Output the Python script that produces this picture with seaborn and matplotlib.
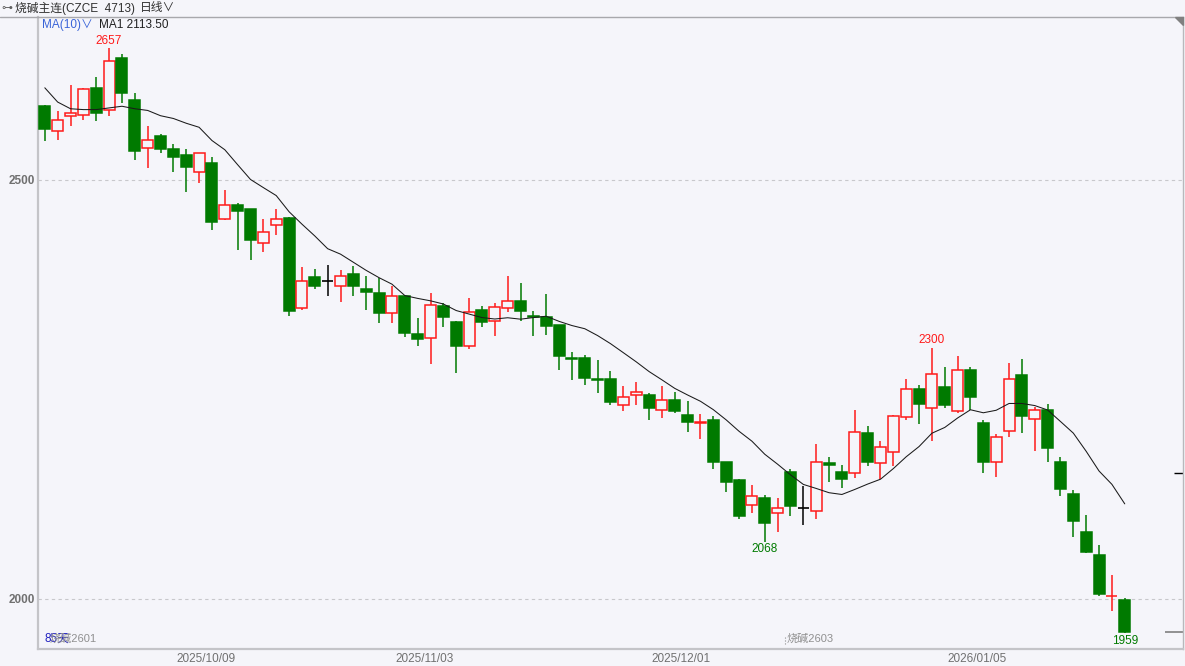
import matplotlib
matplotlib.use("Agg")
import matplotlib.pyplot as plt
import numpy as np
import pandas as pd
import seaborn as sns
from matplotlib.lines import Line2D
from matplotlib.patches import Polygon

# daily OHLC, 烧碱主连 (85 trading days)
opens = [2588, 2559, 2576, 2578, 2610, 2583, 2646, 2595, 2538, 2552,
         2537, 2530, 2510, 2520, 2454, 2470, 2465, 2425, 2446, 2455,
         2347, 2384, 2380, 2374, 2388, 2370, 2365, 2341, 2361, 2316,
         2311, 2350, 2330, 2302, 2345, 2332, 2347, 2355, 2338, 2337,
         2327, 2288, 2288, 2263, 2263, 2231, 2243, 2244, 2226, 2238,
         2220, 2210, 2214, 2163, 2142, 2112, 2120, 2102, 2152, 2109,
         2105, 2162, 2151, 2150, 2198, 2162, 2175, 2217, 2250, 2228,
         2253, 2224, 2273, 2210, 2164, 2200, 2267, 2215, 2226, 2163,
         2125, 2080, 2053, 2003, 1999]
highs = [2590, 2582, 2613, 2610, 2623, 2657, 2650, 2604, 2564, 2555,
         2543, 2537, 2532, 2527, 2488, 2473, 2465, 2454, 2465, 2456,
         2396, 2394, 2399, 2393, 2397, 2385, 2383, 2373, 2362, 2335,
         2365, 2353, 2332, 2359, 2350, 2353, 2385, 2377, 2344, 2364,
         2327, 2295, 2291, 2285, 2272, 2254, 2259, 2246, 2254, 2247,
         2236, 2221, 2218, 2163, 2143, 2136, 2124, 2120, 2155, 2135,
         2185, 2170, 2160, 2226, 2206, 2188, 2220, 2263, 2255, 2300,
         2277, 2290, 2277, 2214, 2197, 2282, 2286, 2229, 2233, 2169,
         2130, 2100, 2064, 2029, 2001]
lows = [2546, 2548, 2565, 2572, 2570, 2576, 2592, 2524, 2514, 2532,
        2510, 2486, 2496, 2440, 2452, 2416, 2404, 2414, 2434, 2338,
        2345, 2370, 2362, 2354, 2362, 2345, 2329, 2329, 2313, 2302,
        2280, 2325, 2270, 2298, 2325, 2314, 2343, 2332, 2314, 2315,
        2273, 2261, 2255, 2246, 2232, 2224, 2232, 2214, 2216, 2222,
        2199, 2191, 2155, 2128, 2096, 2103, 2068, 2080, 2099, 2088,
        2096, 2140, 2133, 2144, 2159, 2143, 2159, 2214, 2209, 2189,
        2228, 2222, 2226, 2150, 2145, 2193, 2198, 2177, 2163, 2123,
        2074, 2055, 2004, 1986, 1959]
closes = [2561, 2572, 2580, 2608, 2580, 2642, 2604, 2535, 2548, 2537,
          2528, 2515, 2532, 2450, 2470, 2463, 2428, 2438, 2453, 2344,
          2380, 2374, 2380, 2385, 2373, 2366, 2341, 2361, 2317, 2310,
          2351, 2336, 2302, 2343, 2331, 2349, 2356, 2344, 2336, 2326,
          2290, 2286, 2264, 2261, 2235, 2241, 2247, 2228, 2237, 2224,
          2211, 2211, 2164, 2139, 2099, 2123, 2091, 2109, 2111, 2109,
          2163, 2160, 2143, 2199, 2163, 2181, 2218, 2250, 2233, 2268,
          2232, 2273, 2241, 2163, 2193, 2262, 2218, 2225, 2180, 2131,
          2093, 2056, 2006, 2004, 1960]
# MA(10) for the first 9 days (needs history before the window)
ma_head = [2610, 2593, 2585, 2584, 2584, 2586, 2588, 2585, 2583]

date_labels = ["2025/10/09", "2025/11/03", "2025/12/01", "2026/01/05"]
date_idx = [12, 29, 49, 72]
contract_switch = 57.6

df = pd.DataFrame({"open": opens, "high": highs, "low": lows, "close": closes})
df["idx"] = np.arange(len(df))
ma = df["close"].rolling(10).mean()
ma.iloc[:len(ma_head)] = ma_head
df["ma10"] = ma

bg = "#f5f5fa"
up_c = "#ff1a1a"
dn_c = "#007a00"

sns.set_theme(style="white")
plt.rcParams["font.family"] = ["Liberation Sans", "Noto Sans CJK SC", "DejaVu Sans"]
plt.rcParams["axes.unicode_minus"] = False

fig = plt.figure(figsize=(11.85, 6.66), dpi=100, facecolor=bg)
ax = fig.add_axes([38 / 1185, 17 / 666, 1145 / 1185, 632 / 666], facecolor=bg)

colors = []
for o, c in zip(df["open"], df["close"]):
    if c > o:
        colors.append(up_c)
    elif c < o:
        colors.append(dn_c)
    else:
        colors.append("black")

# wicks
ax.vlines(df["idx"], df["low"], df["high"], colors=colors, lw=1.1, zorder=2)

# bodies
w = 0.86
for i, row in df.iterrows():
    o, c = row["open"], row["close"]
    col = colors[i]
    if o == c:
        ax.hlines(o, i - w / 2, i + w / 2, colors=col, lw=1.2, zorder=3)
        continue
    face = bg if c > o else dn_c
    ax.bar(i, abs(c - o), bottom=min(o, c), width=w, facecolor=face,
           edgecolor=col, linewidth=1.1, zorder=3)

sns.lineplot(data=df, x="idx", y="ma10", color="#1a1a1a", lw=0.75, ax=ax, zorder=4)

# high / low marks
hi = df["high"].idxmax()
ax.annotate(f"{df['high'][hi]:.0f}", (hi, df["high"][hi]), xytext=(0, 1),
            textcoords="offset points", ha="center", va="bottom", color=up_c, fontsize=8.5)
ax.annotate("2300", (69, highs[69]), xytext=(0, 1),
            textcoords="offset points", ha="center", va="bottom", color=up_c, fontsize=8.5)
ax.annotate("2068", (56, lows[56]), xytext=(0, -1),
            textcoords="offset points", ha="center", va="top", color=dn_c, fontsize=8.5)
lo = df["low"].idxmin()
ax.annotate(f"{df['low'][lo]:.0f}", (lo, df["low"][lo]), xytext=(0, -1),
            textcoords="offset points", ha="center", va="top", color=dn_c, fontsize=8.5)

ax.set_xlim(-0.53, 88.53)
ax.set_ylim(1940.3, 2694.5)

ax.set_yticks([2000, 2500])
ax.set_yticklabels(["2000", "2500"], fontsize=8.5, fontweight="bold", color="#707070")
ax.set_xticks([d + 0.5 for d in date_idx])
ax.set_xticklabels(date_labels, fontsize=8.5, color="#707070")
ax.tick_params(axis="both", length=0, pad=2)
ax.tick_params(axis="x", pad=3)
ax.set_xlabel("")
ax.set_ylabel("")
for y in [2000, 2500]:
    ax.axhline(y, color="#c8c8cc", lw=0.8, ls=(0, (3, 3)), zorder=1)

for side in ["left", "bottom"]:
    ax.spines[side].set_color("#c4c4c8")
    ax.spines[side].set_linewidth(1.6)
ax.spines["right"].set_color("#b8b8bc")
ax.spines["right"].set_linewidth(1.0)
ax.spines["top"].set_color("#a8a8ac")
ax.spines["top"].set_linewidth(1.0)

# price markers on the right edge
ax.hlines(2150, 87.8, 88.53, colors="black", lw=1)
ax.hlines(closes[-1], 87.1, 88.53, colors="#808080", lw=1.2)

# contract labels (overlap as in the terminal view)
ax.text(0.0, 1946, "85天", color="#2020c0", fontsize=8.5, ha="left", va="bottom", zorder=5)
ax.text(0.4, 1946, "烧碱2601", color="#909090", fontsize=8, ha="left", va="bottom", zorder=5)
ax.vlines(contract_switch, 1946, 1956, colors="#909090", lw=0.8, linestyles=":")
ax.text(contract_switch + 0.1, 1946, "烧碱2603", color="#909090", fontsize=8, ha="left", va="bottom")

# header bar
fig.add_artist(Line2D([0, 38 / 1185], [1 - 17 / 666, 1 - 17 / 666], color="#a8a8ac", lw=1.0))
fig.add_artist(Polygon([[1175 / 1185, 1 - 17 / 666], [1183 / 1185, 1 - 17 / 666],
                        [1183 / 1185, 1 - 25 / 666]], closed=True, color="#808080"))
fig.text(1 / 1185, 1 - 8 / 666, "⊶", fontsize=8, color="#606060", va="center", ha="left")
fig.text(15 / 1185, 1 - 8 / 666, "烧碱主连(CZCE  4713)", fontsize=8.5, color="#303030",
         va="center", ha="left")
fig.text(140 / 1185, 1 - 8 / 666, "日线∨", fontsize=8.5, color="#303030", va="center", ha="left")
fig.text(42 / 1185, 1 - 25 / 666, "MA(10)∨", fontsize=8.5, color="#3a64d8", va="center", ha="left")
fig.text(99 / 1185, 1 - 25 / 666, f"MA1 {df['ma10'].iloc[-1]:.2f}", fontsize=8.5, color="#202020",
         va="center", ha="left")

fig.savefig("out.png", dpi=100, facecolor=bg)
